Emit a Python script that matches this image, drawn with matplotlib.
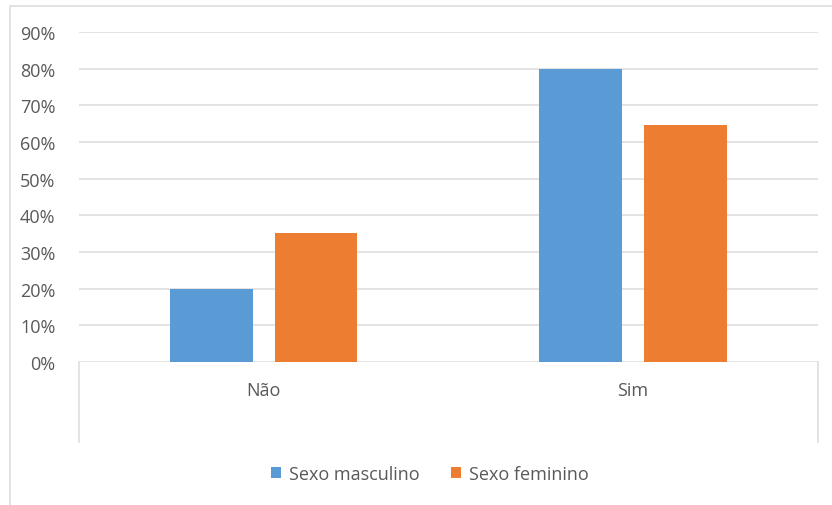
import matplotlib
matplotlib.use("Agg")
import matplotlib.pyplot as plt
from matplotlib.lines import Line2D
from matplotlib.patches import Rectangle, Patch
from matplotlib.ticker import FuncFormatter, MultipleLocator
import numpy as np

categories = ["Não", "Sim"]
series_names = ["Sexo masculino", "Sexo feminino"]
masculino = [0.20, 0.80]
feminino = [0.353, 0.647]
colors = ["#5B9BD5", "#ED7D31"]

plt.rcParams["font.family"] = ["Open Sans", "DejaVu Sans"]
text_color = "#595959"
grid_color = "#DEDEDE"

W, H = 832, 506
fig = plt.figure(figsize=(W / 100, H / 100), dpi=100)

def fx(px):
    return px / W

def fy(py):
    return 1 - py / H

# chart area border (open on the right and bottom)
fig.add_artist(Rectangle((fx(10), fy(520)), fx(900), fy(7) - fy(520),
                         transform=fig.transFigure, fill=False,
                         edgecolor=grid_color, linewidth=1.2))

left, right, top, bottom = 79, 817.6, 33, 363
ax = fig.add_axes([fx(left), fy(bottom), fx(right - left), fy(top) - fy(bottom)])

x = np.arange(len(categories))
width = 0.2236
offset = 0.1416
ax.bar(x - offset, masculino, width, color=colors[0], zorder=3)
ax.bar(x + offset, feminino, width, color=colors[1], zorder=3)

ax.set_xlim(-0.5, 1.5)
ax.set_ylim(0, 0.9)
ax.yaxis.set_major_locator(MultipleLocator(0.1))
ax.yaxis.set_major_formatter(FuncFormatter(lambda v, p: f"{round(v * 100)}%"))
ax.grid(axis="y", color=grid_color, linewidth=1.2, zorder=0)
ax.set_axisbelow(True)
for s in ax.spines.values():
    s.set_visible(False)
ax.tick_params(axis="y", length=0, pad=17, labelsize=13, labelcolor=text_color)
ax.tick_params(axis="x", length=0, pad=14, labelsize=13, labelcolor=text_color)
ax.set_xticks(x)
ax.set_xticklabels(categories)

# category axis box lines below the baseline
for px in (left, right):
    fig.add_artist(Line2D([fx(px), fx(px)], [fy(bottom), fy(443)],
                          transform=fig.transFigure, color=grid_color, linewidth=1.2))

handles = [Patch(facecolor=c, edgecolor="none") for c in colors]
fig.legend(handles, series_names, loc="center", bbox_to_anchor=(fx(430), fy(475)),
           ncol=2, frameon=False, fontsize=13, labelcolor=text_color,
           handlelength=0.55, handleheight=0.55, handletextpad=0.45, columnspacing=1.7)

fig.savefig("out.png", dpi=100, facecolor="white")
